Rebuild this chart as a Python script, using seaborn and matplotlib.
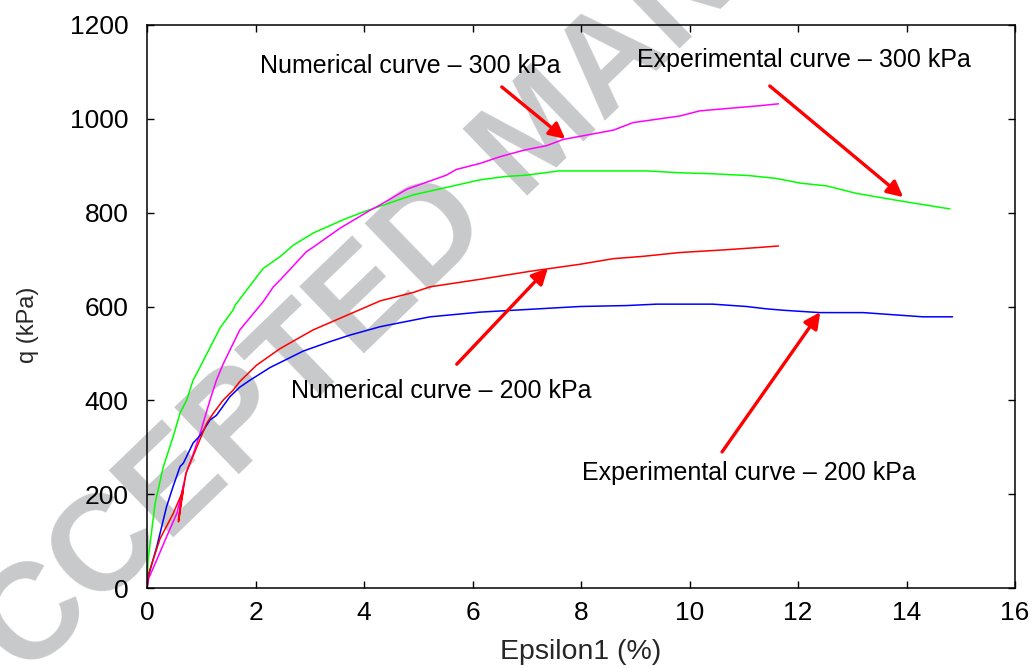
import matplotlib
matplotlib.use("Agg")
import matplotlib.pyplot as plt
import seaborn as sns

# Deviator stress q (kPa) versus axial strain Epsilon1 (%)
exp300_eps = [0, 0.02, 0.15, 0.3, 0.48, 0.61, 0.73, 0.85, 0.92, 1.35, 1.59, 1.62, 2.14, 2.45,
              2.7, 3.07, 3.68, 4.0, 4.91, 6.14, 6.6, 7.0, 7.6, 8.6, 9.21, 9.82, 10.4, 11.1,
              11.6, 12.04, 12.53, 13.08, 13.94, 14.8]
exp300_q = [0, 60, 181, 258, 322, 373, 400, 443, 458, 555, 593, 602, 681, 706,
            731, 757, 788, 802, 838, 870, 877, 880, 889, 889, 889, 885, 883, 879,
            873, 863, 857, 841, 824, 808]

exp200_eps = [0, 0.02, 0.18, 0.36, 0.48, 0.61, 0.67, 0.85, 0.98, 1.16, 1.28, 1.53, 1.71, 1.9,
              2.27, 2.88, 3.37, 3.74, 4.3, 4.91, 5.22, 6.14, 7.06, 7.98, 8.84, 9.39, 10.43,
              11.05, 11.42, 11.73, 12.4, 13.2, 14.3, 14.85]
exp200_q = [0, 23, 88, 173, 216, 259, 266, 309, 325, 358, 368, 408, 428, 443,
            470, 505, 525, 539, 557, 571, 578, 588, 594, 600, 602, 605, 605,
            600, 595, 592, 587, 587, 578, 578]

num300_eps = [0, 0.03, 0.18, 0.36, 0.55, 0.68, 0.58, 0.64, 0.72, 0.85, 0.98, 1.16, 1.28, 1.41,
              1.71, 2.14, 2.33, 2.45, 2.94, 3.07, 3.56, 4.11, 4.29, 4.79, 5.52, 5.7, 6.14,
              6.5, 6.94, 7.37, 7.67, 8.6, 8.96, 9.82, 10.19, 11.3, 11.64]
num300_q = [0, 20, 60, 109, 159, 222, 145, 200, 245, 285, 330, 400, 443, 479,
            550, 610, 642, 656, 717, 727, 767, 805, 816, 850, 880, 892, 905,
            919, 933, 943, 956, 976, 992, 1006, 1017, 1028, 1032]

num200_eps = [0, 0.03, 0.24, 0.48, 0.67, 0.58, 0.63, 0.72, 0.92, 1.1, 1.22, 1.4, 1.59, 1.71,
              2.02, 2.45, 3.06, 3.5, 4.3, 4.91, 5.22, 6.14, 7.06, 7.98, 8.6, 9.15, 9.82,
              10.68, 11.3, 11.64]
num200_q = [0, 31, 105, 158, 209, 141, 185, 245, 301, 351, 372, 400, 422, 440,
            475, 510, 550, 572, 612, 630, 642, 658, 675, 690, 702, 707, 715,
            721, 726, 729]

x_ticks = [0, 2, 4, 6, 8, 10, 12, 14, 16]
y_ticks = [0, 200, 400, 600, 800, 1000, 1200]

sns.set_theme(style="ticks")
plt.rcParams["font.family"] = ["Liberation Sans", "DejaVu Sans"]

fig = plt.figure(figsize=(10.32, 6.68), dpi=100, facecolor="white")
ax = fig.add_axes([147 / 1032, 1 - 588 / 668, 868 / 1032, 563 / 668])
ax.set_facecolor("none")

# Watermark stamped diagonally behind the plot
fig.text(540 / 1032, 1 - 135 / 668, "ACCEPTED MANUSCRIPT", rotation=44,
         rotation_mode="anchor", ha="center", va="center", fontsize=98,
         fontweight="bold", color="#c8c9cb", zorder=-5)

curves = [
    (exp300_eps, exp300_q, "#00ff00"),
    (num300_eps, num300_q, "#ff00ff"),
    (exp200_eps, exp200_q, "#0000ff"),
    (num200_eps, num200_q, "#ff0000"),
]
for eps, q, col in curves:
    sns.lineplot(x=eps, y=q, sort=False, estimator=None, color=col, lw=1.1, ax=ax)

ax.set_xlim(0, 16)
ax.set_ylim(0, 1200)
ax.set_xticks(x_ticks)
ax.set_yticks(y_ticks)
ax.tick_params(direction="in", length=5, width=1, top=True, right=True,
               labelsize=19, colors="black")
ax.tick_params(axis="y", pad=13.5)
ax.tick_params(axis="x", pad=9.5)
for sp in ax.spines.values():
    sp.set_visible(True)
    sp.set_linewidth(1.1)
    sp.set_color("black")

ax.set_xlabel("Epsilon1 (%)", fontsize=20.5, labelpad=10)
ax.set_ylabel("q (kPa)", fontsize=17)
ax.yaxis.set_label_coords(-0.124, 0.467)

# Curve labels with red pointer arrows
labels = [
    ("Numerical curve – 300 kPa", (4.85, 1112), (6.54, 1068), (7.71, 957)),
    ("Experimental curve – 300 kPa", (12.11, 1125), (11.48, 1070), (13.94, 833)),
    ("Numerical curve – 200 kPa", (5.42, 420), (5.71, 477), (7.39, 682)),
    ("Experimental curve – 200 kPa", (11.1, 245), (10.6, 290), (12.41, 588)),
]
for text, tpos, tail, tip in labels:
    ax.text(tpos[0], tpos[1], text, fontsize=18, ha="center", va="center", color="black")
    ax.annotate("", xy=tip, xytext=tail,
                arrowprops=dict(arrowstyle="-|>", color="#ff0000", lw=2.4,
                                mutation_scale=24, shrinkA=0, shrinkB=0))

fig.savefig("out.png", dpi=100, facecolor="white")
